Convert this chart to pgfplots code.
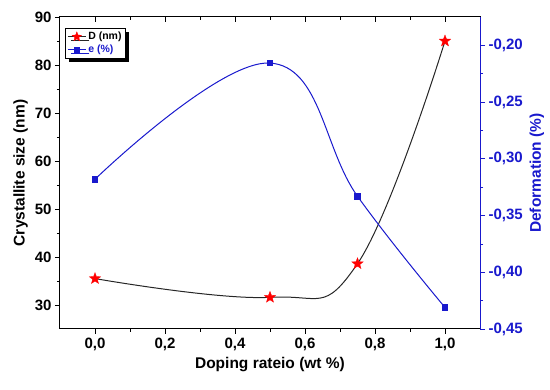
\documentclass[border=0pt]{standalone}
\usepackage{fontspec}
\setmainfont{Liberation Sans}
\usepackage{pgfplots}
\pgfplotsset{compat=1.18}
\usetikzlibrary{shadows,calc}
\definecolor{eblue}{RGB}{25,25,205}
\pgfdeclareplotmark{fstar}{%
  \pgfpathmoveto{\pgfpointpolar{90}{\pgfplotmarksize}}%
  \pgfpathlineto{\pgfpointpolar{126}{0.42\pgfplotmarksize}}%
  \pgfpathlineto{\pgfpointpolar{162}{\pgfplotmarksize}}%
  \pgfpathlineto{\pgfpointpolar{198}{0.42\pgfplotmarksize}}%
  \pgfpathlineto{\pgfpointpolar{234}{\pgfplotmarksize}}%
  \pgfpathlineto{\pgfpointpolar{270}{0.42\pgfplotmarksize}}%
  \pgfpathlineto{\pgfpointpolar{306}{\pgfplotmarksize}}%
  \pgfpathlineto{\pgfpointpolar{342}{0.42\pgfplotmarksize}}%
  \pgfpathlineto{\pgfpointpolar{18}{\pgfplotmarksize}}%
  \pgfpathlineto{\pgfpointpolar{54}{0.42\pgfplotmarksize}}%
  \pgfpathclose\pgfusepathqfillstroke}
\begin{document}
\begin{tikzpicture}
\pgfplotsset{
  every axis/.append style={
    scale only axis, width=420pt, height=312pt,
    xmin=-0.1, xmax=1.1,
    tick label style={font=\fontsize{15}{18}\selectfont\bfseries},
    label style={font=\fontsize{15.5}{18}\selectfont\bfseries},
    /pgf/number format/assume math mode=true,
    /pgf/number format/use comma,
    major tick length=5pt, minor tick length=3pt,
    every tick/.style={line width=0.9pt},
    every minor tick/.style={line width=0.8pt},
  }
}
\begin{axis}[
  name=main,
  ymin=25, ymax=90,
  ytick={30,40,50,60,70,80,90}, minor y tick num=1,
  xtick={0,0.2,0.4,0.6,0.8,1.0}, minor x tick num=1,
  xticklabel style={/pgf/number format/.cd, fixed, fixed zerofill, precision=1},
  tick align=outside, xtick pos=bottom, ytick pos=left,
  axis line style={line width=1pt},
  xlabel={Doping rateio (wt \%)},
  ylabel={Crystallite size (nm)},
]
\addplot[black!85, line width=1pt, smooth, tension=0.7, mark=fstar, mark size=6pt,
  mark options={fill=red, draw=red, line width=0.3pt}]
  coordinates {(0,35.5) (0.5,31.6) (0.75,38.6) (1.0,85.0)};
\end{axis}
\begin{axis}[
  axis y line=none, axis x line*=top,
  ymin=0, ymax=1,
  xtick={0,0.2,0.4,0.6,0.8,1.0}, minor x tick num=1,
  xticklabels={}, tick align=inside,
  axis line style={line width=1pt, -},
]
\end{axis}
\begin{axis}[
  axis x line=none, axis y line*=right,
  ymin=-0.45, ymax=-0.175,
  ytick={-0.45,-0.40,-0.35,-0.30,-0.25,-0.20}, minor y tick num=1,
  tick align=outside,
  y axis line style={eblue, line width=1pt, -},
  ytick style={eblue}, minor y tick style={eblue},
  yticklabel style={text=eblue, /pgf/number format/.cd, fixed, fixed zerofill, precision=2},
  ylabel={Deformation (\%)},
  ylabel style={text=eblue},
  legend style={at={(0.012,0.965)}, anchor=north west, draw=black, line width=0.6pt,
    font=\fontsize{10.5}{12}\selectfont\bfseries, inner sep=2pt, row sep=0pt,
    drop shadow={shadow xshift=3.5pt, shadow yshift=-3.5pt, fill=black, opacity=1}},
  legend cell align=left,
  legend image code/.code={\draw[mark repeat=2,mark phase=2] plot coordinates {(0pt,0pt) (9pt,0pt) (18pt,0pt)};},
]
\addlegendimage{black!85, line width=1pt, mark=fstar, mark size=5pt, mark options={fill=red, draw=red, line width=0.3pt}}
\addlegendentry{D (nm)}
\addplot[eblue, line width=1pt, smooth, tension=0.7, mark=square*, mark size=2.8pt,
  mark options={fill=eblue, draw=eblue}]
  coordinates {(0,-0.318) (0.5,-0.2156) (0.75,-0.333) (1.0,-0.431)};
\addlegendentry[text=eblue]{e (\%)}
\end{axis}
\pgfresetboundingbox
\path ($(main.south west)+(-60pt,-61pt)$) rectangle ($(main.north east)+(70pt,17pt)$);
\end{tikzpicture}
\end{document}
